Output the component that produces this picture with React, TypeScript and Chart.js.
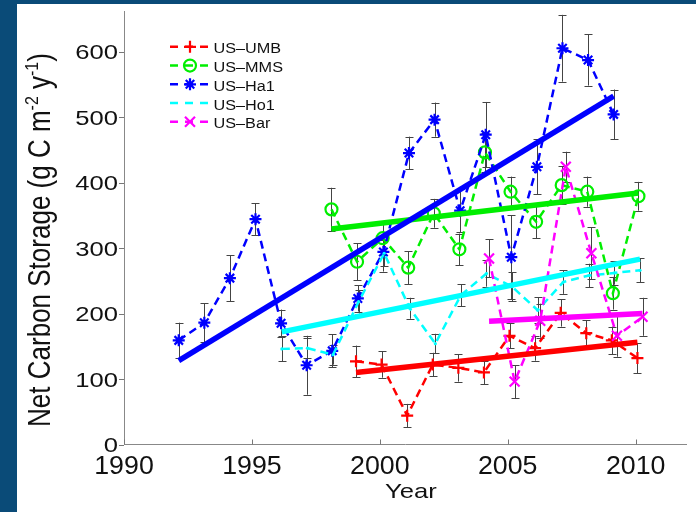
import React, { useEffect, useRef } from 'react';
import { Chart, registerables } from 'chart.js';

Chart.register(...registerables);

// ---- tick labels ----
const xTicks = [1990, 1995, 2000, 2005, 2010];
const yTicks = [0, 100, 200, 300, 400, 500, 600];

// ---- series data (g C m-2 y-1) ----
const umbYears = [1999, 2000, 2001, 2002, 2003, 2004, 2005, 2006, 2007, 2008, 2009, 2010];
const umbValues = [127, 122, 44, 122, 117, 110, 166, 147, 201, 170, 159, 132];
const umbErrors = [24, 20, 18, 18, 21, 18, 19, 19, 21, 20, 21, 23];
const umbFit = [110, 156];

const mmsYears = [1998, 1999, 2000, 2001, 2002, 2003, 2004, 2005, 2006, 2007, 2008, 2009, 2010];
const mmsValues = [359, 279, 315, 270, 353, 298, 446, 386, 340, 396, 386, 231, 379];
const mmsErrors = [33, 28, 25, 25, 22, 24, 30, 23, 25, 29, 23, 25, 22];
const mmsFit = [329, 384];

const ha1Years = [1992, 1993, 1994, 1995, 1996, 1997, 1998, 1999, 2000, 2001, 2002, 2003, 2004, 2005, 2006, 2007, 2008, 2009];
const ha1Values = [159, 186, 254, 344, 185, 121, 143, 223, 294, 445, 496, 357, 473, 286, 424, 605, 587, 504];
const ha1Errors = [27, 30, 35, 24, 21, 45, 25, 20, 30, 25, 26, 33, 50, 64, 42, 51, 39, 38];
const ha1Fit = [128, 532];

const ho1Years = [1996, 1997, 1998, 1999, 2000, 2001, 2002, 2003, 2004, 2005, 2006, 2007, 2008, 2009, 2010];
const ho1Values = [146, 147, 137, 218, 292, 208, 154, 228, 261, 241, 205, 248, 258, 262, 266];
const ho1Errors = [19, 15, 15, 18, 20, 16, 15, 17, 20, 22, 20, 18, 18, 18, 18];
const ho1Fit = [172, 283];

const barYears = [2004, 2005, 2006, 2007, 2008, 2009, 2010];
const barValues = [284, 96, 189, 424, 292, 166, 195];
const barErrors = [29, 25, 26, 23, 40, 32, 29];
const barFit = [188, 200];

type Marker = 'cross' | 'circle' | 'star' | 'dot' | 'crossRot';
interface Series {
  name: string;
  color: string;
  years: number[];
  values: number[];
  errors: number[];
  fit: number[];
  offset: number;
  marker: Marker;
}

const SERIES: Series[] = [
  { name: 'US–UMB', color: '#ff0000', years: umbYears, values: umbValues, errors: umbErrors, fit: umbFit, offset: 0.07, marker: 'cross' },
  { name: 'US–MMS', color: '#00ee00', years: mmsYears, values: mmsValues, errors: mmsErrors, fit: mmsFit, offset: 0.11, marker: 'circle' },
  { name: 'US–Ha1', color: '#0000ff', years: ha1Years, values: ha1Values, errors: ha1Errors, fit: ha1Fit, offset: 0.14, marker: 'star' },
  { name: 'US–Ho1', color: '#00ffff', years: ho1Years, values: ho1Values, errors: ho1Errors, fit: ho1Fit, offset: 0.17, marker: 'dot' },
  { name: 'US–Bar', color: '#ff00ff', years: barYears, values: barValues, errors: barErrors, fit: barFit, offset: 0.27, marker: 'crossRot' },
];

const FONT = '"Liberation Sans", Arial, Helvetica, sans-serif';

function drawStretched(ctx: CanvasRenderingContext2D, text: string, x: number, y: number, size: number, sx: number, align: CanvasTextAlign) {
  ctx.save();
  ctx.translate(x, y);
  ctx.scale(sx, 1);
  ctx.font = `${size}px ${FONT}`;
  ctx.textAlign = align;
  ctx.textBaseline = 'alphabetic';
  ctx.fillStyle = '#111';
  ctx.fillText(text, 0, 0);
  ctx.restore();
}

function drawMarker(ctx: CanvasRenderingContext2D, m: Marker, x: number, y: number, color: string) {
  ctx.save();
  ctx.strokeStyle = color;
  ctx.fillStyle = color;
  ctx.lineWidth = 2.2;
  ctx.setLineDash([]);
  ctx.beginPath();
  if (m === 'cross') {
    ctx.moveTo(x - 6, y); ctx.lineTo(x + 6, y);
    ctx.moveTo(x, y - 6); ctx.lineTo(x, y + 6);
    ctx.stroke();
  } else if (m === 'circle') {
    ctx.arc(x, y, 6, 0, Math.PI * 2);
    ctx.stroke();
  } else if (m === 'star') {
    for (let k = 0; k < 4; k++) {
      const a = (k * Math.PI) / 4;
      ctx.moveTo(x - 6 * Math.cos(a), y - 6 * Math.sin(a));
      ctx.lineTo(x + 6 * Math.cos(a), y + 6 * Math.sin(a));
    }
    ctx.stroke();
  } else if (m === 'crossRot') {
    ctx.moveTo(x - 5, y - 5); ctx.lineTo(x + 5, y + 5);
    ctx.moveTo(x + 5, y - 5); ctx.lineTo(x - 5, y + 5);
    ctx.stroke();
  }
  ctx.restore();
}

const backgroundPlugin = {
  id: 'frameBg',
  beforeDraw(chart: any) {
    const { ctx, width, height } = chart;
    ctx.save();
    ctx.fillStyle = '#0a4b78';
    ctx.fillRect(0, 0, width, height);
    ctx.fillStyle = '#ffffff';
    ctx.fillRect(17, 4, width - 17, height - 4);
    ctx.restore();
  },
};

const errorBarPlugin = {
  id: 'errorBars',
  beforeDatasetsDraw(chart: any) {
    const { ctx, scales, chartArea } = chart;
    const xs = scales.x;
    const ys = scales.y;
    ctx.save();
    ctx.beginPath();
    ctx.rect(chartArea.left, chartArea.top, chartArea.right - chartArea.left, chartArea.bottom - chartArea.top);
    ctx.clip();
    ctx.strokeStyle = '#444';
    ctx.lineWidth = 1;
    ctx.beginPath();
    SERIES.forEach((s) => {
      s.years.forEach((yr, i) => {
        const px = Math.round(xs.getPixelForValue(yr + s.offset)) + 0.5;
        const top = ys.getPixelForValue(s.values[i] + s.errors[i]);
        const bot = ys.getPixelForValue(s.values[i] - s.errors[i]);
        ctx.moveTo(px, top); ctx.lineTo(px, bot);
        ctx.moveTo(px - 4, Math.round(top) + 0.5); ctx.lineTo(px + 4, Math.round(top) + 0.5);
        ctx.moveTo(px - 4, Math.round(bot) + 0.5); ctx.lineTo(px + 4, Math.round(bot) + 0.5);
      });
    });
    ctx.stroke();
    ctx.restore();
  },
};

const annotationPlugin = {
  id: 'axesText',
  afterDraw(chart: any) {
    const { ctx, scales, chartArea } = chart;
    const xs = scales.x;
    const ys = scales.y;
    ctx.save();
    // ticks
    ctx.strokeStyle = '#777';
    ctx.lineWidth = 1;
    ctx.beginPath();
    yTicks.forEach((v) => {
      const py = Math.round(ys.getPixelForValue(v)) + 0.5;
      ctx.moveTo(chartArea.left - 5, py);
      ctx.lineTo(chartArea.left, py);
    });
    xTicks.forEach((v) => {
      const px = Math.round(xs.getPixelForValue(v)) + 0.5;
      ctx.moveTo(px, chartArea.bottom);
      ctx.lineTo(px, chartArea.bottom - 5);
    });
    ctx.stroke();
    ctx.restore();

    // tick labels
    yTicks.forEach((v) => {
      const py = ys.getPixelForValue(v);
      drawStretched(ctx, String(v), chartArea.left - 6, py + 7.5, 21, 1.22, 'right');
    });
    xTicks.forEach((v) => {
      const px = xs.getPixelForValue(v);
      drawStretched(ctx, String(v), px, 474, 25, 1.07, 'center');
    });
    // x title
    drawStretched(ctx, 'Year', 411, 497.5, 21, 1.22, 'center');

    // y title with superscripts
    const parts = [
      { t: 'Net Carbon Storage (g C m', sup: false },
      { t: '-2', sup: true },
      { t: ' y', sup: false },
      { t: '-1', sup: true },
      { t: ')', sup: false },
    ];
    const big = 26;
    const small = 16;
    ctx.save();
    ctx.translate(50, 240);
    ctx.scale(1.18, 1);
    ctx.rotate(-Math.PI / 2);
    ctx.fillStyle = '#111';
    ctx.textBaseline = 'alphabetic';
    ctx.textAlign = 'left';
    let total = 0;
    parts.forEach((p) => {
      ctx.font = `${p.sup ? small : big}px ${FONT}`;
      total += ctx.measureText(p.t).width;
    });
    let cx = -total / 2;
    parts.forEach((p) => {
      ctx.font = `${p.sup ? small : big}px ${FONT}`;
      ctx.fillText(p.t, cx, p.sup ? -10 : 0);
      cx += ctx.measureText(p.t).width;
    });
    ctx.restore();

    // legend
    SERIES.forEach((s, i) => {
      const base = 53.3 + i * 18.75;
      const cy = base - 6.5;
      ctx.save();
      ctx.strokeStyle = s.color;
      ctx.lineWidth = 2.5;
      ctx.setLineDash([8, 7]);
      ctx.beginPath();
      ctx.moveTo(170, cy);
      ctx.lineTo(210, cy);
      ctx.stroke();
      ctx.restore();
      drawMarker(ctx, s.marker, 190, cy, s.color);
      drawStretched(ctx, s.name, 213.5, base, 14, 1.16, 'left');
    });
  },
};

export default function App() {
  const canvasRef = useRef<HTMLCanvasElement | null>(null);

  useEffect(() => {
    if (!canvasRef.current) return;
    const datasets: any[] = [];
    SERIES.forEach((s, idx) => {
      const isDot = s.marker === 'dot';
      datasets.push({
        label: s.name,
        data: s.years.map((yr, i) => ({ x: yr + s.offset, y: s.values[i] })),
        borderColor: s.color,
        borderWidth: 2.5,
        borderDash: [8, 5],
        showLine: true,
        fill: false,
        tension: 0,
        pointStyle: isDot ? 'circle' : s.marker,
        pointRadius: isDot ? 1.6 : s.marker === 'crossRot' ? 7 : 6,
        pointBorderWidth: isDot ? 0 : 2.2,
        pointBorderColor: s.color,
        pointBackgroundColor: isDot ? s.color : 'rgba(0,0,0,0)',
        order: 20 - idx,
      });
    });
    SERIES.forEach((s, idx) => {
      const first = s.years[0] + s.offset;
      const last = s.years[s.years.length - 1] + s.offset;
      datasets.push({
        label: s.name + ' fit',
        data: [
          { x: first, y: s.fit[0] },
          { x: last, y: s.fit[1] },
        ],
        borderColor: s.color,
        borderWidth: 5.5,
        borderCapStyle: 'butt',
        pointRadius: 0,
        showLine: true,
        fill: false,
        order: 10 - idx,
      });
    });

    const chart = new Chart(canvasRef.current, {
      type: 'scatter',
      data: { datasets },
      options: {
        responsive: false,
        animation: false,
        layout: { padding: { top: 11.7, right: 1.5, left: 0, bottom: 0 } },
        plugins: {
          legend: { display: false },
          tooltip: { enabled: false },
        },
        scales: {
          x: {
            type: 'linear',
            min: 1990,
            max: 2012,
            ticks: { display: false, stepSize: 5, includeBounds: false },
            grid: { display: false, drawTicks: false },
            border: { display: true, color: '#888', width: 1 },
            afterFit: (scale: any) => {
              scale.height = 67.5;
            },
          },
          y: {
            type: 'linear',
            min: 0,
            max: 660.8,
            ticks: { display: false, stepSize: 100, includeBounds: false },
            grid: { display: false, drawTicks: false },
            border: { display: true, color: '#888', width: 1 },
            afterFit: (scale: any) => {
              scale.width = 124;
            },
          },
        },
      } as any,
      plugins: [backgroundPlugin, errorBarPlugin, annotationPlugin],
    });
    return () => chart.destroy();
  }, []);

  return (
    <div style={{ position: 'fixed', left: 0, top: 0, width: 696, height: 512 }}>
      <canvas ref={canvasRef} width={696} height={512} style={{ display: 'block', width: 696, height: 512 }} />
    </div>
  );
}
